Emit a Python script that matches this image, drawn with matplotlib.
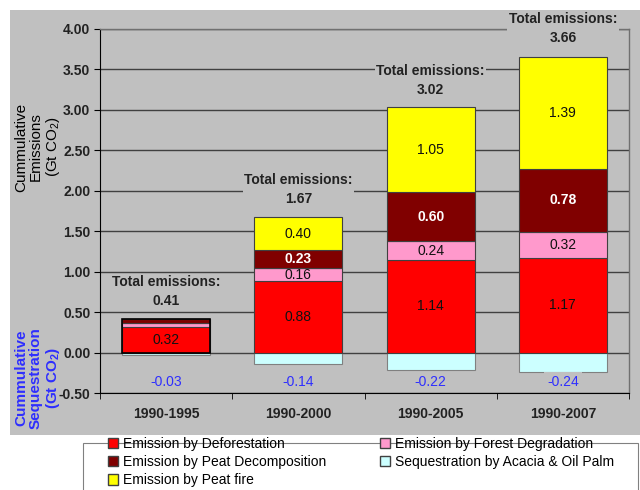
import matplotlib.pyplot as plt
from matplotlib.patches import Rectangle, Patch
import numpy as np

plt.rcParams['font.family'] = ['Liberation Sans', 'DejaVu Sans']
plt.rcParams['mathtext.fontset'] = 'custom'
plt.rcParams['mathtext.rm'] = 'Liberation Sans'
plt.rcParams['mathtext.bf'] = 'Liberation Sans:bold'

periods = ['1990-1995', '1990-2000', '1990-2005', '1990-2007']
deforestation = [0.32, 0.88, 1.14, 1.17]
degradation = [0.05, 0.16, 0.24, 0.32]
peat_decomp = [0.04, 0.23, 0.60, 0.78]
peat_fire = [0.00, 0.40, 1.05, 1.39]
sequestration = [-0.03, -0.14, -0.22, -0.24]
totals = [0.41, 1.67, 3.02, 3.66]

# segments that get a value label (bar index per series)
label_deforest = [0, 1, 2, 3]
label_degrad = [1, 2, 3]
label_decomp = [1, 2, 3]
label_fire = [1, 2, 3]

c_def = '#FF0000'
c_deg = '#FF99CC'
c_dec = '#800000'
c_fire = '#FFFF00'
c_seq = '#CCFFFF'
bg = '#C0C0C0'

fig = plt.figure(figsize=(6.4, 4.9), dpi=100)
fig.patch.set_facecolor('white')
fig.patches.append(Rectangle((10 / 640, 55 / 490), 630 / 640, 425 / 490,
                             transform=fig.transFigure, facecolor=bg,
                             edgecolor='none', zorder=-10))
fig.patches.append(Rectangle((83 / 640, -0.02), 555 / 640, 57 / 490,
                             transform=fig.transFigure, facecolor='white',
                             edgecolor='#808080', linewidth=0.8, zorder=-10))

ax = fig.add_axes([100 / 640, 97 / 490, 529 / 640, 364 / 490])
ax.set_facecolor(bg)

x = np.arange(len(periods))
w = 0.667
ec = '#404040'
lw = 0.8

d = np.array(deforestation)
g = np.array(degradation)
p = np.array(peat_decomp)
f = np.array(peat_fire)

ax.bar(x, sequestration, w, color=c_seq, edgecolor='#808080', linewidth=lw, zorder=3)
ax.bar(x, d, w, color=c_def, edgecolor=ec, linewidth=lw, zorder=3)
ax.bar(x, g, w, bottom=d, color=c_deg, edgecolor=ec, linewidth=lw, zorder=3)
ax.bar(x, p, w, bottom=d + g, color=c_dec, edgecolor=ec, linewidth=lw, zorder=3)
ax.bar(x, f, w, bottom=d + g + p, color=c_fire, edgecolor=ec, linewidth=lw, zorder=3)
# outline around the first stacked bar
ax.bar(x[0], totals[0], w, color='none', edgecolor='black', linewidth=1.2, zorder=4)

fs = 10
for i in label_deforest:
    ax.text(x[i], d[i] / 2, f'{d[i]:.2f}', ha='center', va='center',
            fontsize=fs, color='#111111', zorder=5)
for i in label_degrad:
    ax.text(x[i], d[i] + g[i] / 2, f'{g[i]:.2f}', ha='center', va='center',
            fontsize=fs, color='#111111', zorder=5)
for i in label_decomp:
    ax.text(x[i], d[i] + g[i] + p[i] / 2, f'{p[i]:.2f}', ha='center', va='center',
            fontsize=fs, color='white', fontweight='bold', zorder=5)
for i in label_fire:
    ax.text(x[i], d[i] + g[i] + p[i] + f[i] / 2, f'{f[i]:.2f}', ha='center',
            va='center', fontsize=fs, color='#111111', zorder=5)

for i, s in enumerate(sequestration):
    ax.text(x[i], -0.36, f'{s:.2f}', ha='center', va='center', fontsize=fs,
            color='#2E2EFF', zorder=5, clip_on=False,
            bbox=dict(facecolor=bg, edgecolor='none', pad=2))

for i, t in enumerate(totals):
    ax.annotate(f'Total emissions:\n{t:.2f}', (x[i], t), xytext=(0, 8),
                textcoords='offset points', ha='center', va='bottom',
                fontsize=fs, fontweight='bold', color='#222222',
                linespacing=1.45, zorder=6, annotation_clip=False,
                bbox=dict(facecolor=bg, edgecolor='none', pad=1))

ax.set_xlim(-0.5, 3.5)
ax.set_ylim(-0.5, 4.0)
ax.set_yticks(np.arange(-0.5, 4.01, 0.5))
ax.set_yticklabels([f'{v:.2f}' for v in np.arange(-0.5, 4.01, 0.5)],
                   fontsize=fs, fontweight='bold', color='#222222')
ax.set_xticks(x)
ax.set_xticklabels(periods, fontsize=fs, fontweight='bold', color='#222222')
ax.set_xticks(np.arange(-0.5, 3.6, 1.0), minor=True)
ax.tick_params(axis='x', which='major', length=0, pad=10)
ax.tick_params(axis='x', which='minor', length=4, direction='out', color='black')
ax.tick_params(axis='y', length=4, direction='out', pad=3, color='black')
ax.grid(axis='y', color='#404040', linewidth=1, zorder=1)
ax.set_axisbelow(True)

for side in ['top', 'right']:
    ax.spines[side].set_color('#707070')
    ax.spines[side].set_linewidth(1)
ax.spines['left'].set_color('black')
ax.spines['bottom'].set_color('black')

fig.text(38 / 640, 1 - 147 / 490, 'Cummulative\nEmissions\n(Gt CO$_2$)',
         rotation=90, ha='center', va='center', multialignment='center',
         fontsize=11, color='black', linespacing=1.05)
fig.text(38 / 640, 1 - 378 / 490, 'Cummulative\nSequestration\n(Gt CO$_\\mathbf{2}$)',
         rotation=90, ha='center', va='center', multialignment='center',
         fontsize=11, fontweight='bold', color='#2E2EFF', linespacing=1.05)

handles = [Patch(facecolor=c_def, edgecolor='#404040'),
           Patch(facecolor=c_dec, edgecolor='#404040'),
           Patch(facecolor=c_fire, edgecolor='#404040'),
           Patch(facecolor=c_deg, edgecolor='#404040'),
           Patch(facecolor=c_seq, edgecolor='#404040')]
labels = ['Emission by Deforestation', 'Emission by Peat Decomposition',
          'Emission by Peat fire', 'Emission by Forest Degradation',
          'Sequestration by Acacia & Oil Palm']
fig.legend(handles, labels, loc='upper left', bbox_to_anchor=(108 / 640, 1 - 437 / 490),
           ncol=2, frameon=False, fontsize=fs, handlelength=0.75, handleheight=0.75,
           handletextpad=0.3, labelspacing=0.3, columnspacing=3.9, borderpad=0,
           borderaxespad=0)

fig.savefig('out.png', dpi=100)
